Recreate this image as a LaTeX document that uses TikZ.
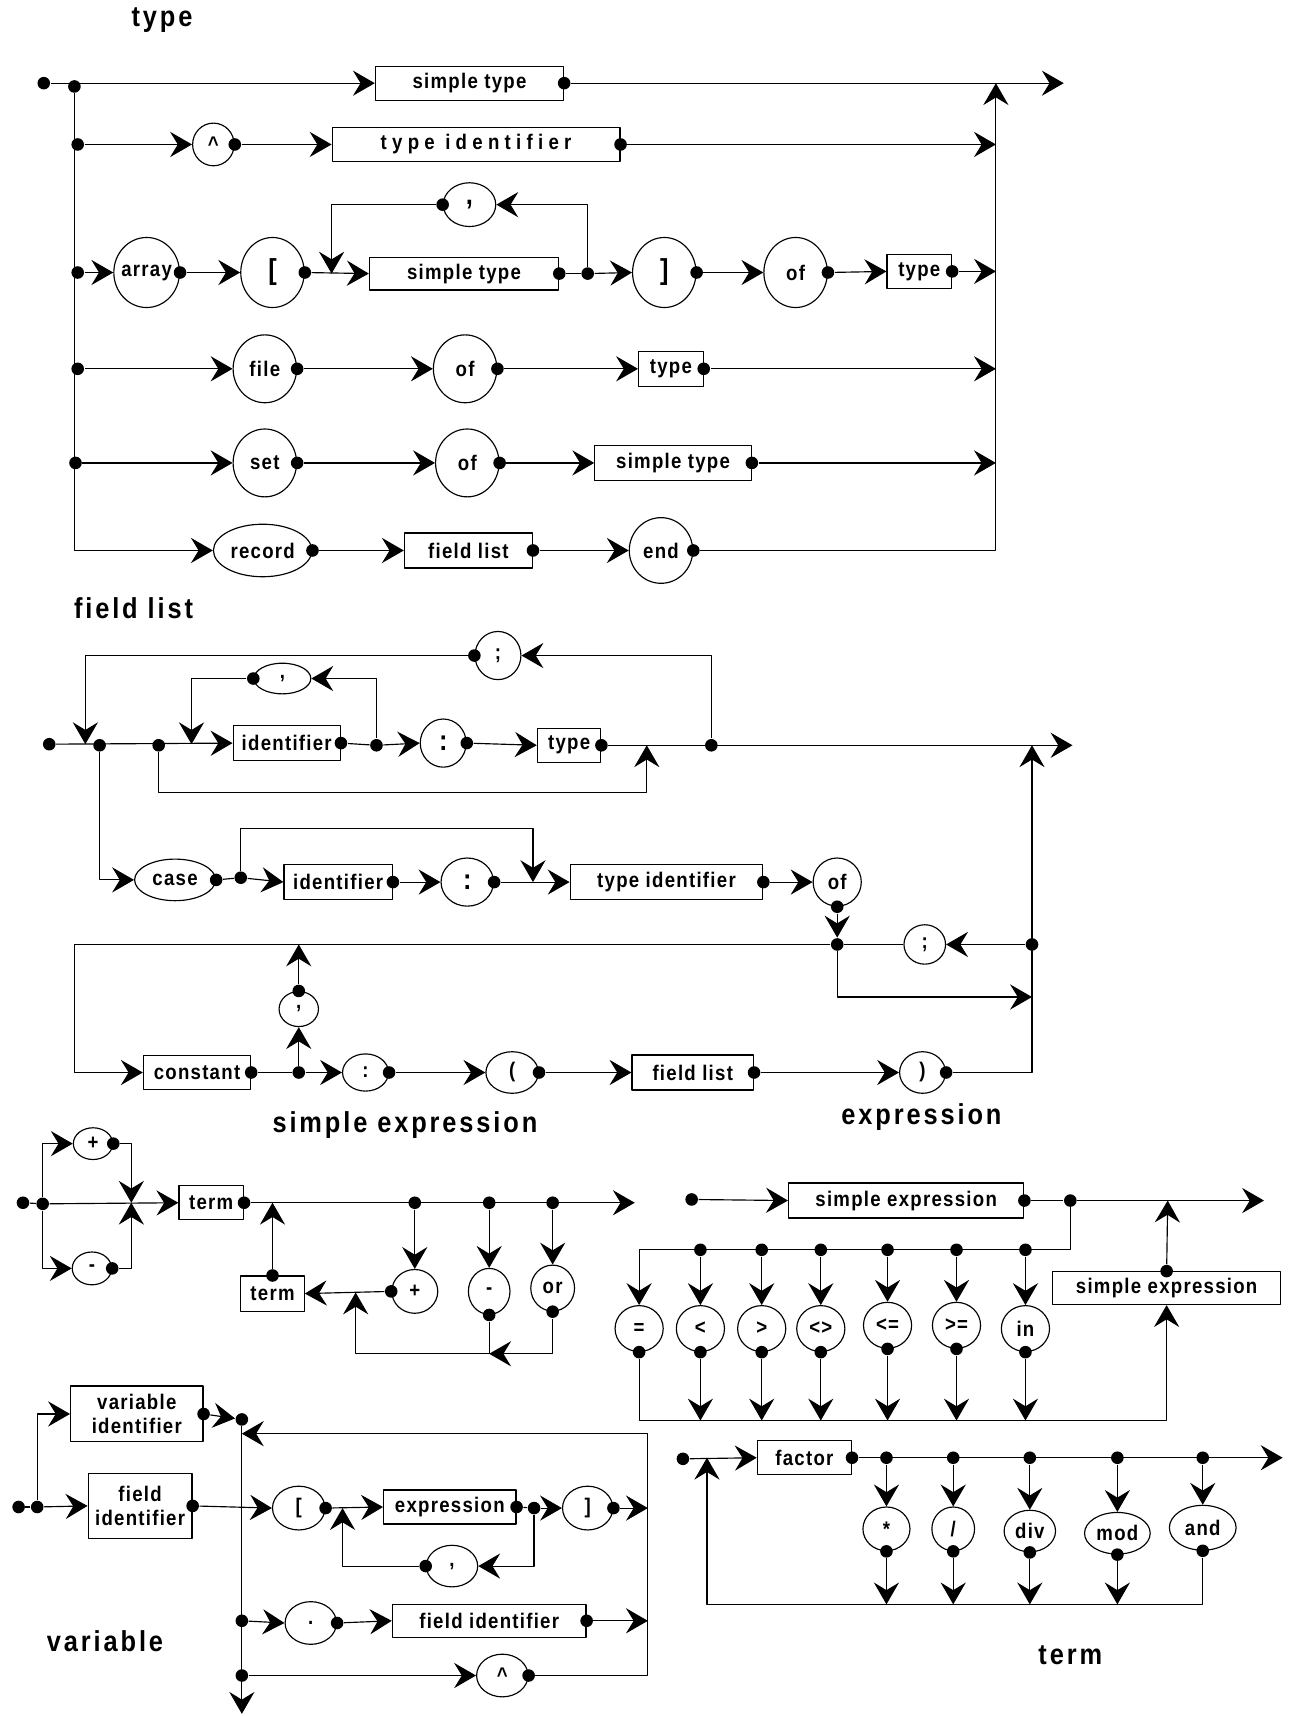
\documentclass[tikz,border=0pt]{standalone}
\usepackage{fontspec}
\setmainfont{Liberation Sans}[FakeStretch=0.88]
\usetikzlibrary{arrows.meta,shapes.geometric}
\tikzset{
  ov/.style 2 args={draw, ellipse, inner sep=0pt, minimum width=#1*0.02cm, minimum height=#2*0.02cm},
  bx/.style 2 args={draw, rectangle, inner sep=0pt, align=center, minimum width=#1*0.02cm, minimum height=#2*0.02cm},
  dt/.style={circle, fill, inner sep=0pt, minimum size=0.23cm},
  ttl/.style={font=\fontsize{15}{18}\selectfont\bfseries\addfontfeature{LetterSpace=10}},
  spaced/.style={font=\fontsize{11}{13}\selectfont\bfseries\addfontfeature{LetterSpace=25}},
  bigc/.style={font=\fontsize{15}{17}\selectfont\bfseries}
}
\begin{document}
\begin{tikzpicture}[x=0.02cm, y=-0.02cm, line width=0.6pt, line join=round,
  >={Stealth[length=0.4cm, width=0.46cm, inset=0.14cm]},
  font=\fontsize{11}{12.5}\selectfont\bfseries\addfontfeature{LetterSpace=6}]
\useasboundingbox (0,0) rectangle (1179,1568);
% type
\node[ttl] (h1) at (148,18) {type};
\node[dt] (t0) at (40,76) {};
\node[dt] (t1) at (68,79) {};
\node[dt] (t2) at (71,132) {};
\node[dt] (t3) at (71,249) {};
\node[dt] (t4) at (71,337) {};
\node[dt] (t5) at (69,423) {};
\node[bx={172}{31}] (st1) at (429,76) {simple type};
\node[ov={38}{39}] (hat1) at (195,132) {\textasciicircum};
\node[bx={263}{31}, spaced] (tid1) at (435,132) {type identifier};
\node[ov={60}{64}, inner sep=-2pt] (arr) at (134,249) {array};
\node[ov={58}{64}, bigc] (lb1) at (249,249) {[};
\node[bx={173}{30}] (st2) at (424,250) {simple type};
\node[ov={58}{64}, bigc] (rb1) at (607,249) {]};
\node[ov={58}{64}] (of1) at (727,249) {of};
\node[bx={59}{31}] (ty1) at (840,248) {type};
\node[ov={48}{40}, bigc] (cm1) at (429,187) {,};
\node[dt] (t6) at (537,250) {};
\coordinate (t7) at (303,250);
\node[ov={58}{62}] (fil) at (242,337) {file};
\node[ov={58}{62}] (of2) at (425,337) {of};
\node[bx={59}{32}] (ty2) at (613,337) {type};
\node[ov={58}{62}] (st) at (242,423) {set};
\node[ov={58}{62}] (of3) at (427,423) {of};
\node[bx={143}{32}] (st3) at (615,423) {simple type};
\node[ov={90}{48}] (rec) at (240,503) {record};
\node[bx={117}{32}] (fl1) at (428,503) {field list};
\node[ov={58}{60}] (ed) at (604,503) {end};
\foreach \n in {st1,hat1,tid1,arr,lb1,st2,rb1,of1,ty1,fil,of2,ty2,st,of3,st3,rec,fl1,ed}
  \node[dt] (\n-e) at (\n.east) {};
\node[dt] (cm1-w) at (cm1.west) {};
\foreach \n/\y in {tj/76,r2/132,r3/248,r4/337,r5/423,r6/503}
  \coordinate (\n) at (910,\y);
\coordinate (tout) at (972,76);
\draw[->] (t0) -- (st1.west);
\draw[->] (st1-e) -- (tout);
\draw[->] (t1) |- (rec.west);
\draw[->] (t2) -- (hat1.west);
\draw[->] (hat1-e) -- (tid1.west);
\draw[->] (tid1-e) -- (r2);
\draw[->] (t3) -- (arr.west);
\draw[->] (arr-e) -- (lb1.west);
\draw[->] (lb1-e) -- (st2.west);
\draw (st2-e) -- (t6);
\draw[->] (t6) |- (cm1.east);
\draw[->] (cm1-w) -| (t7);
\draw[->] (t6) -- (rb1.west);
\draw[->] (rb1-e) -- (of1.west);
\draw[->] (of1-e) -- (ty1.west);
\draw[->] (ty1-e) -- (r3);
\draw[->] (t4) -- (fil.west);
\draw[->] (fil-e) -- (of2.west);
\draw[->] (of2-e) -- (ty2.west);
\draw[->] (ty2-e) -- (r4);
\draw[->] (t5) -- (st.west);
\draw[->] (st-e) -- (of3.west);
\draw[->] (of3-e) -- (st3.west);
\draw[->] (st3-e) -- (r5);
\draw[->] (rec-e) -- (fl1.west);
\draw[->] (fl1-e) -- (ed.west);
\draw[->] (ed-e) -- (r6) -- (tj);
% field list
\node[ttl] (h2) at (122,556) {field list};
\node[dt] (f0) at (45,680) {};
\node[dt] (f1) at (91,681) {};
\node[dt] (f2) at (145,681) {};
\node[bx={98}{32}] (id1) at (262,679) {identifier};
\node[dt] (f3) at (344,681) {};
\node[ov={42}{44}, bigc] (cl1) at (405,679) {:};
\node[bx={58}{31}] (ty3) at (520,681) {type};
\node[dt] (f4) at (650,681) {};
\node[ov={52}{28}] (cm2) at (258,620) {,};
\node[ov={42}{44}] (sc1) at (455,599) {;};
\node[ov={74}{38}] (cas) at (160,804) {case};
\node[dt] (f5) at (220,802) {};
\node[bx={99}{32}] (id2) at (309,806) {identifier};
\node[ov={48}{44}, bigc] (cl2) at (427,806) {:};
\node[bx={176}{32}] (tid2) at (609,806) {type identifier};
\node[ov={44}{44}] (of4) at (765,806) {of};
\node[dt] (f6) at (765,863) {};
\node[ov={38}{36}] (sc2) at (845,863) {;};
\node[dt] (f7) at (943,863) {};
\node[bx={98}{31}] (con) at (180,980) {constant};
\node[dt] (f8) at (273,980) {};
\node[ov={36}{32}] (cm3) at (273,922) {,};
\node[ov={42}{34}] (cl3) at (334,980) {:};
\node[ov={48}{38}] (lp) at (468,980) {(};
\node[bx={111}{32}] (fl2) at (633,980) {field list};
\node[ov={42}{38}] (rp) at (843,980) {)};
\foreach \n in {id1,cl1,ty3,cas,id2,cl2,tid2,con,cl3,lp,fl2,rp}
  \node[dt] (\n-e) at (\n.east) {};
\node[dt] (cm2-w) at (cm2.west) {};
\node[dt] (sc1-w) at (sc1.west) {};
\node[dt] (of4-s) at (of4.south) {};
\node[dt] (cm3-n) at (cm3.north) {};
\coordinate (g1) at (78,680);
\coordinate (g2) at (175,680);
\coordinate (g3) at (591,681);
\coordinate (g4) at (943,681);
\coordinate (gout) at (980,681);
\coordinate (g5) at (487,806);
\coordinate (g6) at (68,863);
\coordinate (g7) at (273,863);
\coordinate (g8) at (943,911);
\draw[->] (f0) -- (id1.west);
\draw (id1-e) -- (f3);
\draw[->] (f3) -- (cl1.west);
\draw[->] (cl1-e) -- (ty3.west);
\draw[->] (ty3-e) -- (gout);
\draw[->] (f3) |- (cm2.east);
\draw[->] (cm2-w) -| (g2);
\draw[->] (f4) |- (sc1.east);
\draw[->] (sc1-w) -| (g1);
\draw[->] (f2) -- ++(0,43) -| (g3);
\draw[->] (f1) |- (cas.west);
\draw (cas-e) -- (f5);
\draw[->] (f5) -- (id2.west);
\draw[->] (f5) -- ++(0,-45) -| (g5);
\draw[->] (id2-e) -- (cl2.west);
\draw[->] (cl2-e) -- (tid2.west);
\draw[->] (tid2-e) -- (of4.west);
\draw[->] (of4-s) -- (f6);
\draw[->] (f7) -- (sc2.east);
\draw (sc2.west) -- (f6);
\draw[->] (f6) -- (g6) |- (con.west);
\draw[->] (f6) |- (g8);
\draw (con-e) -- (f8);
\draw[->] (f8) -- (cm3.south);
\draw[->] (cm3-n) -- (g7);
\draw[->] (f8) -- (cl3.west);
\draw[->] (cl3-e) -- (lp.west);
\draw[->] (lp-e) -- (fl2.west);
\draw[->] (fl2-e) -- (rp.west);
\draw[->] (rp-e) -| (g4);
% simple expression
\node[ttl] (h3) at (370,1028) {simple expression};
\node[dt] (s0) at (21,1099) {};
\node[dt] (s1) at (39,1100) {};
\node[ov={36}{29}] (pl1) at (85,1045) {+};
\node[ov={36}{30}] (mi1) at (84,1159) {-};
\node[bx={59}{31}] (tm1) at (193,1099) {term};
\node[bx={58}{32}] (tm2) at (249,1182) {term};
\node[dt] (s2) at (379,1099) {};
\node[dt] (s3) at (447,1099) {};
\node[dt] (s4) at (505,1099) {};
\node[ov={42}{40}] (pl2) at (379,1180) {+};
\node[ov={38}{42}] (mi2) at (447,1180) {-};
\node[ov={40}{42}] (orr) at (505,1177) {or};
\foreach \n in {pl1,mi1,tm1} \node[dt] (\n-e) at (\n.east) {};
\node[dt] (tm2-n) at (tm2.north) {};
\node[dt] (pl2-w) at (pl2.west) {};
\node[dt] (mi2-s) at (mi2.south) {};
\node[dt] (orr-s) at (orr.south) {};
\coordinate (k1) at (120,1099);
\coordinate (k2) at (249,1099);
\coordinate (k3) at (325,1181);
\coordinate (k4) at (447,1237);
\coordinate (sout) at (580,1099);
\draw (s0) -- (s1);
\draw[->] (s1) -- (tm1.west);
\draw[->] (s1) |- (pl1.west);
\draw[->] (s1) |- (mi1.west);
\draw[->] (pl1-e) -| (k1);
\draw[->] (mi1-e) -| (k1);
\draw[->] (tm1-e) -- (sout);
\draw[->] (tm2-n) -- (k2);
\draw[->] (s2) -- (pl2.north);
\draw[->] (s3) -- (mi2.north);
\draw[->] (s4) -- (orr.north);
\draw[->] (pl2-w) -- (tm2.east);
\draw[->] (orr-s) |- (k4);
\draw (mi2-s) -- (k4);
\draw[->] (k4) -| (k3);
% expression
\node[ttl] (h4) at (842,1021) {expression};
\node[dt] (e0) at (632,1096) {};
\node[bx={215}{32}] (se1) at (828,1097) {simple expression};
\node[dt] (e1) at (978,1097) {};
\node[bx={208}{30}] (se2) at (1066,1177) {simple expression};
\node[dt] (se1-e) at (se1.east) {};
\node[dt] (se2-n) at (se2.north) {};
\coordinate (q1) at (1067,1097);
\coordinate (qout) at (1155,1097);
\coordinate (q2) at (584,1142);
\coordinate (q3) at (1066,1298);
\foreach \n/\x/\y/\lab in {eq/584/1214/=, lt/640/1214/<, gt/696/1214/>, ne/750/1214/<>, le/811/1211/<=, ge/874/1211/>=, inn/937/1214/in}{
  \node[ov={44}{42}] (\n) at (\x,\y) {\lab};
  \node[dt] (\n-s) at (\n.south) {};
}
\foreach \n/\x in {lt/640,gt/696,ne/750,le/811,ge/874,inn/937}{
  \node[dt] (\n-t) at (\x,1142) {};
  \draw[->] (\n-t) -- (\n.north);
  \draw[->] (\n-s) -- (\n-s |- q3);
}
\draw[->] (e0) -- (se1.west);
\draw (se1-e) -- (e1);
\draw[->] (e1) -- (qout);
\draw[->] (se2-n) -- (q1);
\draw[->] (e1) |- (q2) -- (eq.north);
\draw[->] (eq-s) |- (q3) -- (se2.south);
% term
\node[ttl] (h5) at (978,1512) {term};
\node[dt] (m0) at (624,1333) {};
\node[bx={86}{31}] (fac) at (735,1332) {factor};
\node[dt] (fac-e) at (fac.east) {};
\coordinate (p1) at (646,1332);
\coordinate (p2) at (646,1466);
\coordinate (pout) at (1172,1332);
\node[ov={43}{40}] (mul) at (810,1397) {*};
\node[ov={39}{40}] (dvd) at (871,1397) {/};
\node[ov={47}{38}] (dv) at (941,1399) {div};
\node[ov={60}{38}] (md) at (1021,1401) {mod};
\node[ov={61}{41}] (nd) at (1099,1396) {and};
\foreach \n in {mul,dvd,dv,md,nd}{
  \node[dt] (\n-t) at (\n |- p1) {};
  \node[dt] (\n-s) at (\n.south) {};
  \draw[->] (\n-t) -- (\n.north);
}
\foreach \n in {mul,dvd,dv,md} \draw[->] (\n-s) -- (\n-s |- p2);
\draw[->] (m0) -- (fac.west);
\draw[->] (fac-e) -- (pout);
\draw[->] (nd-s) |- (p2) -- (p1);
% variable
\node[ttl] (h6) at (96,1500) {variable};
\node[dt] (v0) at (17,1377) {};
\node[dt] (v1) at (34,1377) {};
\node[bx={121}{51}] (vid) at (125,1292) {variable\\identifier};
\node[bx={95}{59}] (fid) at (128,1376) {field\\identifier};
\node[dt] (v2) at (221,1297) {};
\node[ov={48}{40}] (lb2) at (273,1378) {[};
\node[bx={121}{31}] (ex1) at (411,1377) {expression};
\node[dt] (v3) at (488,1378) {};
\node[ov={46}{40}] (rb2) at (537,1378) {]};
\node[ov={47}{38}] (cm4) at (413,1431) {,};
\node[dt] (v4) at (221,1481) {};
\node[ov={47}{39}] (dt1) at (284,1483) {.};
\node[bx={177}{30}] (fid2) at (447,1481) {field identifier};
\node[dt] (v5) at (221,1531) {};
\node[ov={47}{39}] (hat2) at (459,1531) {\textasciicircum};
\foreach \n in {vid,fid,lb2,ex1,rb2,dt1,fid2,hat2} \node[dt] (\n-e) at (\n.east) {};
\node[dt] (cm4-w) at (cm4.west) {};
\coordinate (w1) at (221,1310);
\coordinate (w2) at (592,1310);
\coordinate (w3) at (313,1378);
\coordinate (w4) at (592,1378);
\coordinate (w5) at (592,1481);
\coordinate (wout) at (221,1566);
\draw (v0) -- (v1);
\draw[->] (v1) |- (vid.west);
\draw[->] (v1) -- (fid.west);
\draw[->] (vid-e) -- (v2);
\draw[->] (v2) -- (wout);
\draw[->] (fid-e) -- (lb2.west);
\draw[->] (lb2-e) -- (ex1.west);
\draw (ex1-e) -- (v3);
\draw[->] (v3) -- (rb2.west);
\draw[->] (rb2-e) -- (w4);
\draw[->] (v3) |- (cm4.east);
\draw[->] (cm4-w) -| (w3);
\draw[->] (v4) -- (dt1.west);
\draw[->] (dt1-e) -- (fid2.west);
\draw[->] (fid2-e) -- (w5);
\draw[->] (v5) -- (hat2.west);
\draw[->] (hat2-e) -| (w2) -- (w1);
\end{tikzpicture}
\end{document}
